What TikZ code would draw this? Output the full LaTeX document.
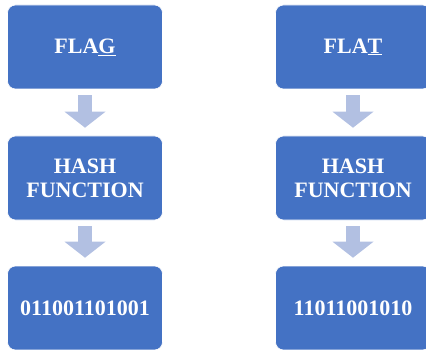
\documentclass[tikz,border=0pt]{standalone}
\usepackage{fontspec}
\setmainfont{Liberation Serif}
\usetikzlibrary{positioning,arrows.meta}
\definecolor{boxblue}{RGB}{68,114,196}
\definecolor{arrowblue}{RGB}{178,192,226}

\begin{document}
\begin{tikzpicture}[x=1pt,y=-1pt,
    hashbox/.style={draw=white,line width=0.6pt,fill=boxblue,rounded corners=8pt,
      minimum width=155pt,minimum height=84pt,text=white,align=center,
      font=\fontsize{22}{24}\selectfont\bfseries},
    blockarrow/.style={draw=arrowblue,line width=14pt,shorten <=6pt,shorten >=8pt,
      -{Triangle[width=41pt,length=16pt,line width=0pt]}}]

    \useasboundingbox (0,0) rectangle (426,350);

    \foreach \col/\x/\word/\bits in {l/85/FLA\underline{G}/011001101001,r/353/FLA\underline{T}/11011001010}{% one column per word
      \node[hashbox](word\col) at (\x,47) {\word};
      \node[hashbox](hash\col) at (\x,178) {HASH\\FUNCTION};
      \node[hashbox](bits\col) at (\x,308) {\bits};
          % block arrows between the boxes
      \draw [blockarrow] (word\col) -- (hash\col);
      \draw [blockarrow] (hash\col) -- (bits\col);
    }

\end{tikzpicture}
\end{document}
